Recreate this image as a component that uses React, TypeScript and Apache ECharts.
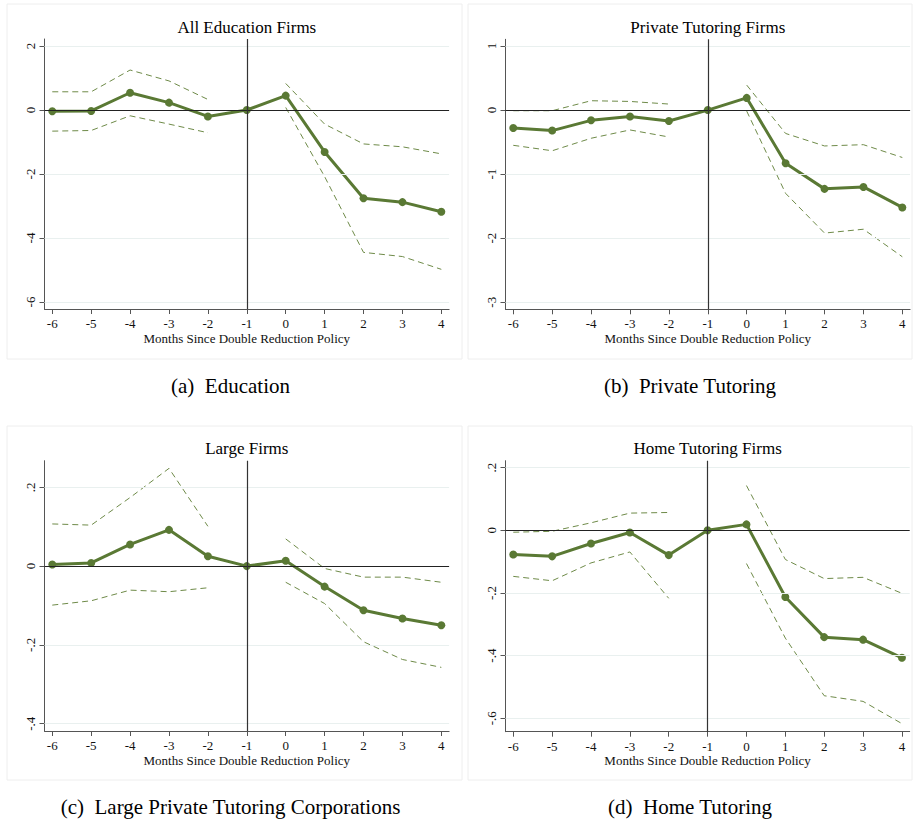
import React, { useEffect, useRef } from "react";
import * as echarts from "echarts";

// Event-study estimates by month relative to the Double Reduction Policy
const months = [-6, -5, -4, -3, -2, -1, 0, 1, 2, 3, 4];

// (a) All education firms
const eduCoef = [-0.04, -0.03, 0.54, 0.23, -0.2, 0, 0.45, -1.31, -2.76, -2.88, -3.18];
const eduUpper = [0.57, 0.57, 1.25, 0.91, 0.33, null, 0.83, -0.44, -1.06, -1.15, -1.37];
const eduLower = [-0.66, -0.64, -0.18, -0.44, -0.71, null, 0.08, -2.08, -4.45, -4.58, -4.98];

// (b) Private tutoring firms
const ptCoef = [-0.28, -0.32, -0.16, -0.1, -0.17, 0, 0.19, -0.83, -1.23, -1.2, -1.52];
const ptUpper = [-0.01, -0.01, 0.146, 0.135, 0.094, null, 0.39, -0.365, -0.56, -0.54, -0.74];
const ptLower = [-0.55, -0.635, -0.44, -0.31, -0.42, null, -0.016, -1.3, -1.92, -1.86, -2.29];

// (c) Large private tutoring corporations
const largeCoef = [0.004, 0.008, 0.055, 0.092, 0.025, 0, 0.0135, -0.052, -0.112, -0.133, -0.15];
const largeUpper = [0.107, 0.104, 0.174, 0.248, 0.101, null, 0.069, -0.006, -0.028, -0.028, -0.041];
const largeLower = [-0.099, -0.088, -0.061, -0.065, -0.055, null, -0.041, -0.095, -0.192, -0.237, -0.257];

// (d) Home tutoring firms
const homeCoef = [-0.077, -0.083, -0.042, -0.007, -0.079, 0, 0.019, -0.213, -0.341, -0.349, -0.407];
const homeUpper = [-0.006, -0.003, 0.024, 0.055, 0.057, null, 0.143, -0.093, -0.154, -0.15, -0.201];
const homeLower = [-0.147, -0.161, -0.104, -0.069, -0.217, null, -0.106, -0.344, -0.528, -0.546, -0.617];

// y tick labels per panel
const eduTicks = [-6, -4, -2, 0, 2];
const ptTicks = [-3, -2, -1, 0, 1];
const largeTicks = [-0.4, -0.2, 0, 0.2];
const homeTicks = [-0.6, -0.4, -0.2, 0, 0.2];

const panelTitles = ["All Education Firms", "Private Tutoring Firms", "Large Firms", "Home Tutoring Firms"];
const captions = ["(a)  Education", "(b)  Private Tutoring", "(c)  Large Private Tutoring Corporations", "(d)  Home Tutoring"];
const xTitle = "Months Since Double Reduction Policy";

const SERIF = "'Liberation Serif', 'DejaVu Serif', serif";
const MAIN = "#5a7934";
const CI = "#6e8a48";
const AXIS = "#555555";

const fmtTick = (v: number) => {
  if (Math.abs(v) < 1e-9) return "0";
  const s = String(Math.round(v * 10) / 10);
  return s.replace(/^(-?)0\./, "$1.");
};

type Panel = {
  title: string;
  caption: string;
  coef: number[];
  upper: (number | null)[];
  lower: (number | null)[];
  ticks: number[];
  yMin: number;
  yMax: number;
  left: number;
  top: number;
  width: number;
  height: number;
  captionY: number;
  frame: [number, number, number, number];
};

const panels: Panel[] = [
  { title: panelTitles[0], caption: captions[0], coef: eduCoef, upper: eduUpper, lower: eduLower, ticks: eduTicks,
    yMin: -6.22, yMax: 2.22, left: 44.5, top: 39, width: 404.6, height: 270, captionY: 386, frame: [7, 4, 455, 355] },
  { title: panelTitles[1], caption: captions[1], coef: ptCoef, upper: ptUpper, lower: ptLower, ticks: ptTicks,
    yMin: -3.11, yMax: 1.105, left: 505.5, top: 39.3, width: 404.6, height: 270, captionY: 386, frame: [468, 4, 444, 355] },
  { title: panelTitles[2], caption: captions[2], coef: largeCoef, upper: largeUpper, lower: largeLower, ticks: largeTicks,
    yMin: -0.4185, yMax: 0.2675, left: 44.5, top: 460.7, width: 404.6, height: 270.3, captionY: 807, frame: [7, 426, 455, 354] },
  { title: panelTitles[3], caption: captions[3], coef: homeCoef, upper: homeUpper, lower: homeLower, ticks: homeTicks,
    yMin: -0.6428, yMax: 0.2223, left: 505.5, top: 460.7, width: 404.2, height: 271, captionY: 807, frame: [468, 426, 444, 354] },
];

const pairs = (vals: (number | null)[]) => months.map((m, i) => [m, vals[i] === null ? "-" : vals[i]]);

export default function App() {
  const ref = useRef<HTMLDivElement>(null);

  useEffect(() => {
    if (!ref.current) return;
    const chart = echarts.init(ref.current, null, { renderer: "svg" });

    const grid: any[] = [];
    const xAxis: any[] = [];
    const yAxis: any[] = [];
    const series: any[] = [];
    const graphic: any[] = [];

    panels.forEach((p, i) => {
      grid.push({ left: p.left, top: p.top, width: p.width, height: p.height, containLabel: false });
      xAxis.push({
        type: "value", gridIndex: i, min: -6.2, max: 4.2,
        axisLine: { show: true, onZero: false, lineStyle: { color: AXIS, width: 1 } },
        axisTick: { show: true, length: 5, customValues: months, lineStyle: { color: AXIS } },
        axisLabel: { customValues: months, fontFamily: SERIF, fontSize: 13, color: "#111", margin: 8,
          formatter: (v: number) => String(v) },
        splitLine: { show: false },
      });
      yAxis.push({
        type: "value", gridIndex: i, min: p.yMin, max: p.yMax,
        axisLine: { show: true, onZero: false, lineStyle: { color: AXIS, width: 1 } },
        axisTick: { show: true, length: 5, customValues: p.ticks, lineStyle: { color: AXIS } },
        axisLabel: { customValues: p.ticks, rotate: 90, fontFamily: SERIF, fontSize: 13, color: "#111", margin: 8,
          formatter: (v: number) => fmtTick(v) },
        splitLine: { show: false },
      });

      // reference lines: light gridlines, zero line, policy month line
      series.push({
        type: "line", xAxisIndex: i, yAxisIndex: i, data: [], silent: true, z: 1,
        markLine: {
          silent: true, symbol: "none", animation: false, label: { show: false },
          data: [
            ...p.ticks.filter((t) => Math.abs(t) > 1e-9).map((t) => ({
              yAxis: t, lineStyle: { color: "#e9f0ef", width: 1, type: "solid" },
            })),
            { yAxis: 0, lineStyle: { color: "#222", width: 1.2, type: "solid" } },
            { xAxis: -1, lineStyle: { color: "#333", width: 1.2, type: "solid" } },
          ],
        },
      });

      [p.upper, p.lower].forEach((band) => {
        series.push({
          type: "line", xAxisIndex: i, yAxisIndex: i, data: pairs(band), z: 2,
          showSymbol: false, connectNulls: false,
          lineStyle: { color: CI, width: 1, type: [6, 4] },
        });
      });

      series.push({
        type: "line", xAxisIndex: i, yAxisIndex: i, data: pairs(p.coef), z: 3,
        symbol: "circle", symbolSize: 8, showSymbol: true,
        itemStyle: { color: MAIN },
        lineStyle: { color: MAIN, width: 3 },
      });

      const [fx, fy, fw, fh] = p.frame;
      graphic.push({
        type: "rect", shape: { x: fx, y: fy, width: fw, height: fh }, silent: true, z: -1,
        style: { fill: "none", stroke: "#eeeeee", lineWidth: 1 },
      });
      const cx = p.left + p.width / 2;
      graphic.push({
        type: "text", x: cx, y: p.top - 12, silent: true,
        style: { text: p.title, fontFamily: SERIF, fontSize: 17, fill: "#000", align: "center", verticalAlign: "middle" },
      });
      graphic.push({
        type: "text", x: cx, y: p.top + p.height + 29, silent: true,
        style: { text: xTitle, fontFamily: SERIF, fontSize: 13, fill: "#111", align: "center", verticalAlign: "middle" },
      });
      graphic.push({
        type: "text", x: (fx + fx + fw) / 2 + (i % 2 === 0 ? -4 : 0), y: p.captionY, silent: true,
        style: { text: p.caption, fontFamily: SERIF, fontSize: 21, fill: "#000", align: "center", verticalAlign: "middle" },
      });
    });

    chart.setOption({
      animation: false,
      backgroundColor: "#ffffff",
      grid, xAxis, yAxis, series, graphic,
      tooltip: { show: false },
    });

    return () => chart.dispose();
  }, []);

  return (
    <div
      ref={ref}
      style={{ position: "absolute", left: 0, top: 0, width: 913, height: 823, background: "#fff" }}
    />
  );
}
